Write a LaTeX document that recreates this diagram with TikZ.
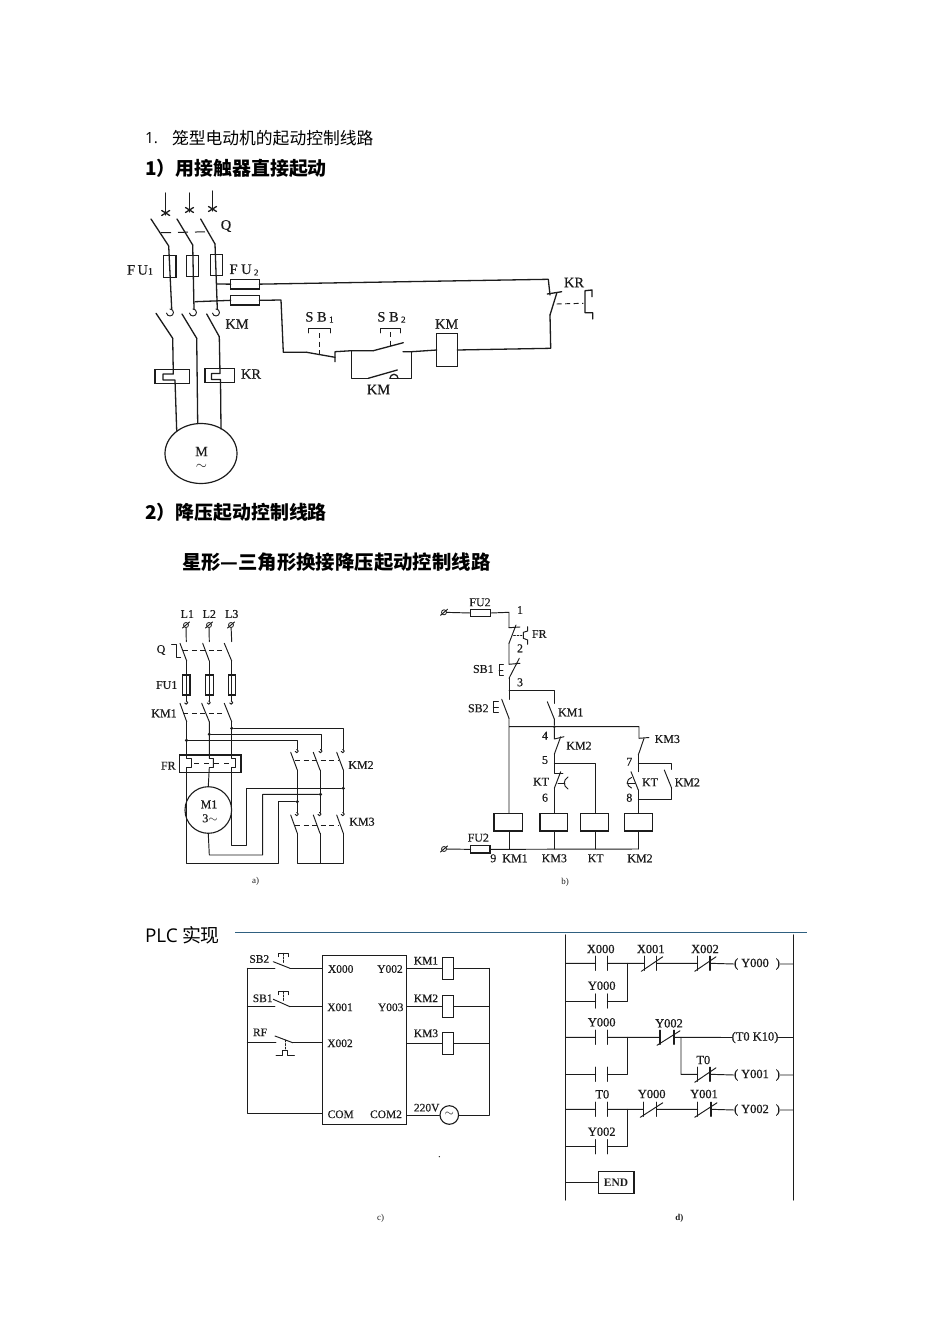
\documentclass[tikz,border=0pt]{standalone}
\usepackage{fontspec}
\setmainfont{Liberation Serif}
\newfontfamily\lfnt[FakeBold=0.35]{Liberation Serif}
\newfontfamily\dfnt[FakeBold=0.7]{Liberation Serif}
\newfontfamily\cjk{Noto Sans CJK SC}
\newfontfamily\latn{Open Sans}
\usetikzlibrary{fit,shapes.geometric}
\definecolor{ink}{HTML}{1C1C1C}
\definecolor{rulec}{HTML}{2F6080}
\tikzset{
  wire/.style={draw=ink,line width=0.95bp,line join=round,line cap=round},
  thick wire/.style={draw=ink,line width=1.3bp,line join=round,line cap=round},
  dash wire/.style={draw=ink,line width=0.95bp,dash pattern=on 5bp off 3.5bp},
  comp/.style={draw=ink,line width=1.1bp,inner sep=0pt,outer sep=0pt},
  lab/.style={inner sep=0pt,outer sep=0pt,text=ink,font=\lfnt\fontsize{11.5}{12}\selectfont},
  laba/.style={inner sep=0pt,outer sep=0pt,text=ink,font=\lfnt\fontsize{12}{13}\selectfont},
  labd/.style={inner sep=0pt,outer sep=0pt,text=ink,font=\dfnt\fontsize{12.5}{13}\selectfont},
  bigl/.style={inner sep=0pt,outer sep=0pt,text=ink,font=\lfnt\fontsize{14.5}{15}\selectfont},
  capl/.style={inner sep=0pt,outer sep=0pt,text=ink,font=\fontsize{9}{10}\selectfont},
  head/.style={inner sep=0pt,outer sep=0pt,anchor=west,text=black},
  dot/.style={circle,fill=ink,inner sep=0pt,minimum size=3.4bp},
}
\newcommand\comp[5]{\node[comp,fit={(#2,#3)(#4,#5)}] (#1) {};}
\newcommand\blade[5]{\coordinate (#1-a) at (#2,#3);\coordinate (#1-b) at (#4,#5);\draw[wire] (#1-a) -- (#1-b);}
\newcommand\bladet[5]{\coordinate (#1-a) at (#2,#3);\coordinate (#1-b) at (#4,#5);\draw[thick wire] (#1-a) -- (#1-b);}
\newcommand\hook[3]{\draw[wire] (#1,#2) arc[start angle=-90,end angle=170,radius=#3];}
\newcommand\term[3]{\node[draw=ink,circle,line width=0.8bp,inner sep=0pt,minimum size=5bp] (#1) at (#2,#3) {};\draw[wire] ([xshift=-3.5bp,yshift=-3bp]#1.center) -- ([xshift=3.5bp,yshift=3bp]#1.center);}
\newcommand\nocon[4]{\coordinate (#1-l) at (#2,#4);\coordinate (#1-r) at (#3,#4);
  \draw[thick wire] (#2,#4-7) -- (#2,#4+7) (#3,#4-7) -- (#3,#4+7);}
\newcommand\nccon[4]{\nocon{#1}{#2}{#3}{#4}\draw[wire] (#2-3,#4+8) -- (#3+6,#4-6.5);}
\begin{document}
\begin{tikzpicture}[x=1bp,y=-1bp]
\useasboundingbox (0,0) rectangle (950,1344);
\fill[white] (0,0) rectangle (950,1344);
% ---------- headings
\node[head,font=\latn\fontsize{15.5}{17}\selectfont] (h1n) at (145,138) {1.};
\node[head,font=\cjk\fontsize{16.85}{20}\selectfont] (h1) at (172,138) {笼型电动机的起动控制线路};
\node[head,font=\cjk\bfseries\fontsize{19}{22}\selectfont] (h2) at (145,168.5) {1）用接触器直接起动};
\node[head,font=\cjk\bfseries\fontsize{19}{22}\selectfont] (h3) at (145,512.5) {2）降压起动控制线路};
\node[head,font=\cjk\bfseries\fontsize{19.45}{22}\selectfont] (h4) at (182,562.5) {星形—三角形换接降压起动控制线路};
\node[head,font=\cjk\fontsize{19}{22}\selectfont] (h5) at (145,935) {{\latn PLC} 实现};
\coordinate (ruleA) at (235,932);\coordinate (ruleB) at (807,932);
\draw[rulec,line width=0.8bp] (ruleA) -- (ruleB);

% ========== Circuit 1
\foreach \n/\x/\ya/\yb in {1/165.7/193/215,2/189.5/193/212,3/212.5/191/211}{
  \coordinate (in\n) at (\x,\ya);\coordinate (ine\n) at (\x,\yb);
  \draw[thick wire] (in\n) -- (ine\n);
  \draw[thick wire] (\x-4,\yb-4.5) -- (\x+4,\yb+0.5) (\x+4,\yb-4.5) -- (\x-4,\yb+0.5);
}
\bladet{q1}{151}{219}{168.7}{246}
\bladet{q2}{177}{219}{192.7}{245}
\bladet{q3}{200.7}{219}{215}{244}
\draw[draw=ink,line width=1bp,dash pattern=on 10bp off 7bp] (161,232.7) -- (212,231.7);
\node[bigl] (Qlab) at (226,226) {Q};
\comp{f1}{163.3}{255.7}{176}{277.3}
\comp{f2}{186.7}{255.7}{198.7}{276.7}
\comp{f3}{210.7}{254.7}{222.3}{275.7}
\coordinate (h1a) at (171.7,309);\coordinate (h2a) at (194,309);\coordinate (h3a) at (217.3,309);
\draw[thick wire] (q1-b) -- (h1a);
\draw[thick wire] (q2-b) -- (h2a);
\draw[thick wire] (q3-b) -- (h3a);
\hook{170}{309}{3.5}\hook{193}{309}{3.5}\hook{216}{309}{3.5}
\bladet{m1}{156}{313.3}{172.7}{338.3}
\bladet{m2}{182}{314}{196.7}{338.3}
\bladet{m3}{206.7}{314}{219.3}{336.7}
\node[bigl] (KMa) at (237,324) {KM};
\comp{kr1}{155}{369.3}{189.3}{383.3}
\comp{kr3}{205}{368.3}{234.3}{382.3}
\node[draw=ink,ellipse,line width=1.2bp,inner sep=0pt,minimum width=72bp,minimum height=60bp] (M) at (201,453.5) {};
\coordinate (z1a) at (173.3,374);\coordinate (z1b) at (163,374);\coordinate (z1c) at (163,380);\coordinate (z1d) at (175,380);
\draw[thick wire] (m1-b) -- (z1a) -- (z1b) -- (z1c) -- (z1d) -- (176.7,430.5);
\draw[thick wire] (m2-b) -- (197.7,423.5);
\coordinate (z3a) at (220,373.5);\coordinate (z3b) at (211.5,373.5);\coordinate (z3c) at (211.5,379.5);\coordinate (z3d) at (220.5,379.5);
\draw[thick wire] (m3-b) -- (z3a) -- (z3b) -- (z3c) -- (z3d) -- (221,429);
\node[bigl] (KRa) at (251,374) {KR};
\node[bigl,align=center,font=\lfnt\fontsize{14}{15}\selectfont] (Mlab) at (201.5,458) {M\\[-2pt]$\sim$};
\node[bigl,anchor=west] (FU1) at (127,270) {F\kern2.5pt U\raisebox{0pt}{\fontsize{10}{11}\selectfont 1}};
\node[bigl,anchor=west] (FU2) at (229.5,270) {F U\,\raisebox{-1.5pt}{\fontsize{9}{10}\selectfont 2}};
% control branch
\comp{ff1}{230.7}{279.3}{259.3}{289}
\comp{ff2}{230.7}{295.7}{259.3}{305}
\coordinate (tap3) at (216.5,284);\coordinate (tap2) at (195.3,301.7);
\draw[thick wire] (tap3) -- (ff1.west);
\draw[thick wire] (tap2) -- (ff2.west);
\coordinate (kr-t) at (548.3,279.3);\coordinate (kr-c) at (550,295);
\draw[thick wire] (ff1.east) -- (kr-t) -- (kr-c);
\draw[thick wire] (547.3,294) -- (561.7,291.7);
\bladet{krb}{556.7}{293.3}{550}{315}
\comp{coil}{436.7}{333.3}{457.3}{366.7}
\coordinate (kr-d) at (550.7,348.3);
\draw[thick wire] (krb-b) -- (kr-d) -- (coil.east);
\draw[dash wire] (556.7,304) -- (583.3,303.3);
\draw[thick wire] (592,296.7) -- (592,290) -- (585,290.7) -- (585,312.7) -- (592.7,312.7) -- (592.7,319);
\node[bigl] (KRb) at (574,282.5) {KR};
\coordinate (w1) at (281,300);\coordinate (w2) at (283.3,352.3);
\bladet{sb1}{306.7}{352.3}{335}{357.3}
\draw[thick wire] (ff2.east) -- (w1) -- (w2) -- (sb1-a);
\coordinate (sb1-p) at (335,351.7);\coordinate (jl) at (351.7,350.7);\coordinate (jr) at (411.7,351.7);
\draw[thick wire] (335,361.7) -- (sb1-p) -- (jl);
\draw[dash wire] (319,333) -- (319,354);
\draw[thick wire] (308.3,332.7) -- (308.3,328.3) -- (330.7,328.3) -- (330.7,332.7);
\node[bigl,anchor=center] (SB1) at (319.5,317.3) {S B\,\raisebox{-1pt}{\fontsize{9}{10}\selectfont 1}};
\bladet{sb2}{373.3}{350.7}{403.3}{342.7}
\draw[thick wire] (jl) -- (sb2-a) (403,351.7) -- (jr) -- (coil.west);
\draw[dash wire] (390.7,332) -- (390.7,346);
\draw[thick wire] (380.7,332.7) -- (380.7,328.3) -- (400.7,328.3) -- (400.7,332.7);
\node[bigl,anchor=center] (SB2) at (391.5,317.3) {S B\,\raisebox{-1pt}{\fontsize{9}{10}\selectfont 2}};
\bladet{km}{368.3}{378.3}{397.3}{370}
\coordinate (jlb) at (351.7,378.3);\coordinate (jrb) at (411.7,378.3);
\draw[thick wire] (jl) -- (jlb) -- (km-a) (390,378.3) -- (jrb) -- (jr);
\draw[thick wire] (390,378.3) arc[start angle=180,end angle=360,radius=4];
\node[bigl] (KMb) at (378.5,389.5) {KM};
\node[bigl] (KMc) at (446.7,324) {KM};

% ========== Circuit a
\node[laba] (L1) at (187.3,614) {L1};\node[laba] (L2) at (209.3,614) {L2};\node[laba] (L3) at (231.7,614) {L3};
\term{t1}{186}{625}\term{t2}{209}{625}\term{t3}{231}{625}
\draw[wire] (t1) -- (186.3,641.7) (t2) -- (209.3,641.7) (t3) -- (231.7,641.7);
\blade{aq1}{180}{643.3}{186.7}{661}
\blade{aq2}{202.7}{643.3}{209.3}{661}
\blade{aq3}{224.3}{643.3}{231.7}{661}
\draw[dash wire] (183.3,650) -- (225,650);
\draw[wire] (171.7,644) -- (176,644) -- (176,657.3) -- (180.7,657.3);
\node[laba] (aQ) at (161,650) {Q};
\comp{af1}{182.7}{675}{190}{695}
\comp{af2}{205.7}{675}{213.3}{695}
\comp{af3}{228.3}{675}{235.7}{695}
\node[laba] (aFU) at (166.7,685) {FU1};
\node[laba] (aKM1) at (164,713.3) {KM1};
\draw[wire] (aq1-b) -- (186.7,701) (aq2-b) -- (209.3,701) (aq3-b) -- (231.7,701);
\foreach \x in {186.2,208.8,231.2}{\hook{\x}{701}{1.6}}
\blade{ak1}{180}{703.3}{186.7}{721.7}
\blade{ak2}{201.7}{703.3}{209.3}{721.7}
\blade{ak3}{224.3}{703.3}{231.7}{721.7}
\draw[dash wire] (183.3,713.3) -- (225,713.3);
\node[dot] (j1) at (186.5,740.3) {};\node[dot] (j2) at (209.3,734.3) {};\node[dot] (j3) at (231.7,728.3) {};
\coordinate (kt1) at (297.3,749.5);\coordinate (kt2) at (321,749.5);\coordinate (kt3) at (343.3,749.5);
\draw[wire] (j1) -| (kt1);\draw[wire] (j2) -| (kt2);\draw[wire] (j3) -| (kt3);
\foreach \x in {296.8,320.5,342.8}{\hook{\x}{749.5}{1.6}}
\blade{k21}{290.7}{752.3}{297.3}{770}
\blade{k22}{313.3}{752.3}{320}{770}
\blade{k23}{336.7}{752.3}{343.3}{770}
\draw[dash wire] (295,760.7) -- (338.3,760.7);
\node[laba] (aKM2) at (361,765) {KM2};
\node[dot] (j4) at (297.3,801.7) {};\node[dot] (j5) at (320.5,794.3) {};\node[dot] (j6) at (343.3,788.3) {};
\coordinate (kb1) at (297.3,812.5);\coordinate (kb2) at (320,812.5);\coordinate (kb3) at (343.3,812.5);
\draw[wire] (k21-b) -- (kb1) (k22-b) -- (kb2) (k23-b) -- (kb3);
\foreach \x in {296.8,319.5,342.8}{\hook{\x}{812.5}{1.6}}
\blade{k31}{290.7}{815}{297.3}{833.3}
\blade{k32}{313.3}{815}{320}{833.3}
\blade{k33}{336.7}{815}{343.3}{833.3}
\draw[dash wire] (295,825) -- (338.3,825);
\node[laba] (aKM3) at (362,821.7) {KM3};
\coordinate (bar1) at (297.3,863.3);\coordinate (bar2) at (320,863.3);\coordinate (bar3) at (343.3,863.3);
\draw[wire] (k31-b) -- (bar1) -- (bar3) -- (k33-b) (k32-b) -- (bar2);
\comp{FR}{179.3}{755}{241}{772.7}
\node[laba] (aFR) at (168.3,765.7) {FR};
\node[draw=ink,circle,line width=1.1bp,inner sep=0pt,minimum size=46.6bp] (M1) at (208.3,810) {};
\node[laba] (M1t) at (209,804.3) {M1};\node[laba] (M1s) at (210,818.3) {3$\sim$};
\draw[wire] (ak1-b) -- (186.7,758.5) -- (191.7,758.5) -- (191.7,767.5) -- (186.7,767.5) -- (186.7,863.3) -- (278.3,863.3) -- (278.3,801.7) -- (j4);
\draw[wire] (ak2-b) -- (209.3,758.5) -- (213.3,758.5) -- (213.3,767.5) -- (209.3,767.5) -- (M1.north);
\draw[wire] (ak3-b) -- (231.7,758.5) -- (235.7,758.5) -- (235.7,767.5) -- (231.7,767.5) -- (231.7,845) -- (246.7,845) -- (246.7,788.3) -- (j6);
\draw[wire] (M1.south) -- (209.3,855) -- (262.7,855) -- (262.7,794.3) -- (j5);
\draw[draw=ink,line width=0.95bp,dash pattern=on 5bp off 5bp] (194,763) -- (231,763);
\node[capl] (capa) at (255.7,881.7) {a)};

% ========== Circuit b
\term{bt1}{444}{612.3}\term{bt2}{444}{849}
\comp{bf1}{470.7}{609.7}{490.7}{616.3}
\comp{bf2}{470.7}{845.7}{490}{853}
\node[laba] (bFU1) at (480,602.3) {FU2};\node[laba] (bFU2) at (478.3,837.7) {FU2};
\coordinate (b1) at (509,612.3);\coordinate (b2) at (509,627.7);
\draw[wire] (bt1) -- (bf1.west) (bf1.east) -- (b1) -- (b2);
\draw[wire] (b2) -- (520,627);
\blade{bfr}{516}{625}{509}{643.3}
\draw[wire] (527.7,626.7) -- (527.7,631) -- (523.3,632.3) -- (523.3,638.3) -- (527.7,640) -- (527.7,644.3);
\draw[wire,dash pattern=on 2bp off 1.5bp] (513.5,635.7) -- (522,635.7);
\node[laba] (bFR) at (539.3,634) {FR};
\node[laba] (n1) at (520,610) {1};\node[laba] (n2) at (520,648.3) {2};\node[laba] (n3) at (520,682.3) {3};
\coordinate (b3) at (509,664.3);
\draw[wire] (bfr-b) -- (b3) -- (520,663.3);
\blade{bsb1}{519.3}{658.3}{509}{678.3}
\draw[wire] (503.3,664) -- (499,664) -- (499,675.7) -- (503.3,675.7) (499,670) -- (503,670);
\node[laba] (bSB1) at (483.3,669) {SB1};
\coordinate (b4) at (509,690.7);\coordinate (b5) at (509,699.3);\coordinate (b6) at (554.3,690.7);\coordinate (b7) at (554.3,703.3);
\draw[wire] (bsb1-b) -- (b5) (b4) -- (b6) -- (b7);
\blade{bsb2}{501.7}{699.3}{509}{718.3}
\draw[wire] (498.3,701) -- (493.3,701) -- (493.3,712.7) -- (498.3,712.7) (493.3,707) -- (498.3,707);
\node[laba] (bSB2) at (478.3,708.3) {SB2};
\blade{bkm1}{547.3}{701.7}{554.3}{719}
\node[laba] (bKM1) at (570.7,712.3) {KM1};
\node[dot,minimum size=3bp] (bj) at (554.3,726.7) {};
\coordinate (b8) at (509,726.7);\coordinate (b9) at (639,726.7);\coordinate (b10) at (639,738.3);
\comp{c1}{494}{813.3}{522.3}{831}
\comp{c2}{540}{813.3}{567.7}{831}
\comp{c3}{580.7}{813.3}{608.3}{831}
\comp{c4}{624.3}{813.3}{652.3}{831}
\draw[wire] (bsb2-b) -- (509,813.3) (b8) -- (b9) -- (b10) -- (649,737.5) (bkm1-b) -- (bj);
\coordinate (b11) at (554.3,739);
\draw[wire] (bj) -- (b11) -- (564,736.7);
\blade{bk2}{560.7}{736.7}{554.3}{754.3}
\node[laba] (bn4) at (545,735.7) {4};\node[laba] (bn5) at (545,760) {5};\node[laba] (bn6) at (545,797.7) {6};
\node[laba] (bKM2) at (579,745.7) {KM2};
\coordinate (b12) at (554.3,763.3);\coordinate (b13) at (595,763.3);\coordinate (b14) at (554.3,773);
\draw[wire] (bk2-b) -- (b14) -- (563,773) (b12) -- (b13) -- (595,813.3);
\blade{bkt1}{560.7}{771.7}{554.3}{788.3}
\draw[wire] (bkt1-b) -- (554.3,813.3);
\draw[wire] (558,783) -- (565,783);
\draw[wire] (568,777) .. controls (563,780) and (563,786) .. (568,789);
\node[laba] (bKT1) at (541,781.7) {KT};
\blade{bk3}{644}{738.3}{638.3}{755}
\node[laba] (bKM3) at (667.3,739) {KM3};
\node[laba] (bn7) at (629.3,761.7) {7};\node[laba] (bn8) at (629.3,797.7) {8};
\coordinate (b15) at (638.3,763.3);\coordinate (b16) at (671.7,763.3);\coordinate (b17) at (671.7,769.5);
\draw[wire] (bk3-b) -- (638.3,771.7) (b15) -- (b16) -- (b17);
\blade{bkm2}{664.3}{770}{671.7}{788.3}
\blade{bkt2}{631}{771.7}{638.3}{790}
\coordinate (b18) at (671.7,799);\coordinate (b19) at (638.3,799);
\draw[wire] (bkm2-b) -- (b18) -- (b19) (bkt2-b) -- (638.3,813.3);
\draw[wire] (627,783) -- (635,783);
\draw[wire] (631.5,777.5) .. controls (626,779) and (626,786) .. (631.5,788);
\node[laba] (bKT2) at (650,782.3) {KT};
\node[laba] (bKM22) at (687.3,782.3) {KM2};
\coordinate (bb0) at (509,849);\coordinate (bb1) at (554.3,849);\coordinate (bb2) at (595,849);\coordinate (bb3) at (638.3,849);
\draw[wire] (bt2) -- (bf2.west) (bf2.east) -- (bb3);
\draw[wire] (509,831) -- (bb0) (554.3,831) -- (bb1) (595,831) -- (bb2) (638.3,831) -- (bb3);
\node[laba] (bn9) at (493.3,858.3) {9};\node[laba] (bkl1) at (515,858.3) {KM1};
\node[laba] (bkl2) at (554.3,858.3) {KM3};\node[laba] (bkl3) at (595.7,858.3) {KT};\node[laba] (bkl4) at (640,858.3) {KM2};
\node[capl] (capb) at (565,882.3) {b)};

% ========== Circuit c
\comp{plc}{322.3}{955.7}{406.7}{1124.7}
\coordinate (cl1) at (247.3,968.3);\coordinate (cl2) at (247.3,1006.7);\coordinate (cl3) at (247.3,1042.7);\coordinate (cl4) at (247.3,1113.3);
\coordinate (cr1) at (489.3,968.3);\coordinate (cr2) at (489.3,1006.7);\coordinate (cr3) at (489.3,1043);\coordinate (cr4) at (489.3,1114.7);
\draw[wire] (cl1) -- (cl4) -- (cl4 -| plc.west);
\draw[wire] (cr1) -- (cr4);
\blade{cs1}{273.3}{961.7}{290}{968.3}
\blade{cs2}{273.3}{999.3}{290}{1006.7}
\blade{cs3}{275}{1036}{292.7}{1042.7}
\draw[wire] (cl1) -- (275,968.3) (cs1-b) -- (cs1-b -| plc.west);
\draw[wire] (cl2) -- (275,1006.7) (cs2-b) -- (cs2-b -| plc.west);
\draw[wire] (cl3) -- (276,1042.7) (cs3-b) -- (cs3-b -| plc.west);
\draw[wire] (278.3,956.7) -- (278.3,953.3) -- (288.3,953.3) -- (288.3,956.7);
\draw[wire,dash pattern=on 2bp off 1.5bp] (283.3,953.3) -- (283.3,963);
\draw[wire] (278.3,994.7) -- (278.3,991.3) -- (288.3,991.3) -- (288.3,994.7);
\draw[wire,dash pattern=on 2bp off 1.5bp] (283.3,991.3) -- (283.3,1001);
\draw[wire] (276,1055.7) -- (282.7,1055.7) -- (282.7,1050) -- (287.3,1050) -- (287.3,1055.7) -- (294.3,1055.7);
\draw[wire,dash pattern=on 2bp off 1.5bp] (285,1040) -- (285,1050);
\node[lab] (cSB2) at (259.3,959) {SB2};\node[lab] (cSB1) at (262.7,998.3) {SB1};\node[lab] (cRF) at (260,1032.3) {RF};
\node[lab] (X0) at (340.7,969) {X000};\node[lab] (X1) at (340,1007.3) {X001};\node[lab] (X2) at (340,1043.3) {X002};
\node[lab] (COM) at (340.7,1114.3) {COM};\node[lab] (Y2) at (390,969) {Y002};\node[lab] (Y3) at (390.7,1007.3) {Y003};\node[lab] (COM2) at (386,1114.3) {COM2};
\comp{ck1}{442.3}{957.3}{453.7}{979.3}
\comp{ck2}{442.3}{995.3}{453.7}{1017.7}
\comp{ck3}{442.3}{1032.3}{453.7}{1054.3}
\draw[wire] (cr1 -| plc.east) -- (cr1 -| ck1.west) (cr1 -| ck1.east) -- (cr1);
\draw[wire] (cr2 -| plc.east) -- (cr2 -| ck2.west) (cr2 -| ck2.east) -- (cr2);
\draw[wire] (cr3 -| plc.east) -- (cr3 -| ck3.west) (cr3 -| ck3.east) -- (cr3);
\node[draw=ink,circle,line width=1.1bp,inner sep=0pt,minimum size=18.6bp] (ac) at (449.3,1115) {};
\node[lab,font=\fontsize{13}{14}\selectfont] (act) at (449.3,1114) {$\sim$};
\draw[wire] (ac.west -| plc.east) -- (ac.west) (ac.east) -- (ac.east -| cr4);
\node[lab] (cK1) at (426,960.7) {KM1};\node[lab] (cK2) at (426,998.3) {KM2};\node[lab] (cK3) at (426,1033.3) {KM3};
\node[lab] (c220) at (426.7,1107.7) {220V};
\node[capl] (capc) at (380.7,1218.3) {c)};
\fill[ink] (439.3,1156.7) circle[radius=0.7];

% ========== Circuit d
\coordinate (LT) at (565.7,935);\coordinate (LB) at (565.7,1200);\coordinate (RT) at (793.3,935);\coordinate (RB) at (793.3,1200);
\draw[thick wire] (LT) -- (LB) (RT) -- (RB);
% rung 1
\nocon{d1}{595.7}{607.3}{963.3}\nccon{d2}{644.3}{656.7}{963.3}\nccon{d3}{697.7}{710}{963.3}
\nocon{d4}{595.7}{607.3}{1001}
\node[labd] (dY0) at (757,964) {(\hspace{3pt}Y000\hspace{7pt})};
\coordinate (dj1) at (627.7,963.3);
\draw[wire] (LT |- d1-l) -- (d1-l) (d1-r) -- (d2-l) (d2-r) -- (d3-l) (d3-r) -- (dY0.west) (dY0.east) -- (RT |- dY0);
\draw[wire] (LT |- d4-l) -- (d4-l) (d4-r) -| (dj1);
\node[labd] (dl1) at (600.7,949) {X000};\node[labd] (dl2) at (650.7,949) {X001};\node[labd] (dl3) at (705,949) {X002};\node[labd] (dl4) at (601.7,985.7) {Y000};
% rung 2
\nocon{d5}{595.7}{607.3}{1037.3}\nccon{d6}{660}{674}{1037.3}
\nocon{d7}{595.7}{607.3}{1074.3}\nccon{d8}{697.7}{710}{1074.3}
\node[labd] (dT) at (755,1037.5) {(T0 K10)};
\node[labd] (dY1) at (757,1075) {(\hspace{3pt}Y001\hspace{7pt})};
\coordinate (dj2) at (627.7,1037.3);\coordinate (dj3) at (681,1037.3);
\draw[wire] (LT |- d5-l) -- (d5-l) (d5-r) -- (d6-l) (d6-r) -- (dT.west) (dT.east) -- (RT |- dT);
\draw[wire] (LT |- d7-l) -- (d7-l) (d7-r) -| (dj2);
\draw[wire] (dj3) |- (d8-l) (d8-r) -- (dY1.west) (dY1.east) -- (RT |- dY1);
\node[labd] (dl5) at (601.7,1022.3) {Y000};\node[labd] (dl6) at (669,1023.3) {Y002};\node[labd] (dl7) at (703.3,1060) {T0};
% rung 3
\nocon{d9}{595.7}{607.3}{1109.3}\nccon{d10}{643.3}{656.7}{1109.3}\nccon{d11}{697.7}{711}{1109.3}
\nocon{d12}{595.7}{607.3}{1146.7}
\node[labd] (dY2) at (757,1110) {(\hspace{3pt}Y002\hspace{7pt})};
\coordinate (dj4) at (627.7,1109.3);
\draw[wire] (LT |- d9-l) -- (d9-l) (d9-r) -- (d10-l) (d10-r) -- (d11-l) (d11-r) -- (dY2.west) (dY2.east) -- (RT |- dY2);
\draw[wire] (LT |- d12-l) -- (d12-l) (d12-r) -| (dj4);
\node[labd] (dl8) at (602.3,1094.3) {T0};\node[labd] (dl9) at (651.7,1094) {Y000};\node[labd] (dl10) at (704,1094) {Y001};\node[labd] (dl11) at (601.7,1131.7) {Y002};
\comp{END}{598.3}{1171.7}{634}{1193.3}
\node[labd,font=\bfseries\fontsize{11.5}{12}\selectfont] (ENDt) at (616,1182.5) {END};
\draw[wire] (LT |- END.west) -- (END.west);
\node[capl,font=\bfseries\fontsize{9}{10}\selectfont] (capd) at (679.3,1218.3) {d)};
\end{tikzpicture}
\end{document}
